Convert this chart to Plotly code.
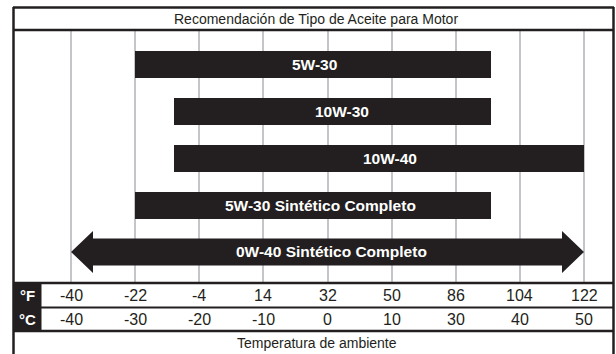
import numpy as np
import plotly.graph_objects as go

# ---- data ----
title = "Recomendación de Tipo de Aceite para Motor"
axis_title = "Temperatura de ambiente"
f_ticks = ["-40", "-22", "-4", "14", "32", "50", "86", "104", "122"]
c_ticks = [-40, -30, -20, -10, 0, 10, 30, 40, 50]
oils = ["5W-30", "10W-30", "10W-40", "5W-30 Sintético Completo", "0W-40 Sintético Completo"]
low_c = [-30, -24, -24, -30, -40]
high_c = [35.5, 35.5, 50, 35.5, 50]
is_arrow = [False, False, False, False, True]

# ---- style ----
W, H = 616, 354
DARK = "#231f20"
GRID = "#c5c5c9"
PLOT_TOP, PLOT_BOT = 30, 283
GRID0, GSTEP = 71, 64.125
ROW0, RSTEP = 64.7, 46.8
label_offset_px = [1, 9.5, 11, 7, 4]
FONT = "Liberation Sans, Arial, sans-serif"

def py(p):  # pixel row -> paper y (plot area spans PLOT_TOP..PLOT_BOT)
    return (PLOT_BOT - p) / (PLOT_BOT - PLOT_TOP)

def px(p):
    return p / W

idx = list(range(len(c_ticks)))
lo = np.interp(low_c, c_ticks, idx)
hi = np.interp(high_c, c_ticks, idx)
rows = np.arange(len(oils))

fig = go.Figure()

bar_mask = [not a for a in is_arrow]
fig.add_trace(go.Bar(
    orientation="h",
    y=rows[bar_mask],
    x=(hi - lo)[bar_mask],
    base=lo[bar_mask],
    width=27 / RSTEP,
    marker=dict(color=DARK, line=dict(width=0)),
    hoverinfo="skip",
))

head_len = 22 / GSTEP
head_h = 21 / RSTEP
body_h = 13.5 / RSTEP
for i, a in enumerate(is_arrow):
    if not a:
        continue
    l, h, r = lo[i], hi[i], rows[i]
    xs = [l, l + head_len, l + head_len, h - head_len, h - head_len, h,
          h - head_len, h - head_len, l + head_len, l + head_len, l]
    ys = [r, r - head_h, r - body_h, r - body_h, r - head_h, r,
          r + head_h, r + body_h, r + body_h, r + head_h, r]
    fig.add_trace(go.Scatter(x=xs, y=ys, mode="lines", fill="toself",
                             fillcolor=DARK, line=dict(color=DARK, width=0),
                             hoverinfo="skip"))

ann = []
for i, name in enumerate(oils):
    cx = (lo[i] + hi[i]) / 2 + label_offset_px[i] / GSTEP
    ann.append(dict(x=cx, y=rows[i], xref="x", yref="y", text=name, showarrow=False,
                    font=dict(family=FONT, size=15.5, color="white", weight="bold")))

for i in idx:
    ann.append(dict(x=i, y=py(295.5), xref="x", yref="paper", text=f_ticks[i], showarrow=False,
                    yanchor="middle", font=dict(family=FONT, size=16, color=DARK)))
    ann.append(dict(x=i, y=py(319.5), xref="x", yref="paper", text=str(c_ticks[i]), showarrow=False,
                    yanchor="middle", font=dict(family=FONT, size=16, color=DARK)))

for lab, yc in [("°F", 295.25), ("°C", 319.25)]:
    ann.append(dict(x=px(13), y=py(yc), xref="paper", yref="paper", text=lab, showarrow=False,
                    xanchor="left", yanchor="middle", width=27, height=23, borderpad=0,
                    bgcolor=DARK, align="center", valign="middle",
                    font=dict(family=FONT, size=15, color="white", weight="bold")))
ann.append(dict(x=px(315.5), y=py(18.5), xref="paper", yref="paper", text=title, showarrow=False,
                yanchor="middle", font=dict(family=FONT, size=14, color=DARK)))
ann.append(dict(x=px(316.5), y=py(343), xref="paper", yref="paper", text=axis_title, showarrow=False,
                yanchor="middle", font=dict(family=FONT, size=14, color=DARK)))

shapes = []
# horizontal rules
for yy, w in [(7.5, 2.5), (30, 2.5), (283, 2.5), (307.5, 2), (331, 2.5)]:
    shapes.append(dict(type="line", xref="paper", yref="paper", x0=px(13), x1=px(614),
                       y0=py(yy), y1=py(yy), line=dict(color=DARK, width=w), layer="above"))
# vertical frame
for xx in [13.5, 613.5]:
    shapes.append(dict(type="line", xref="paper", yref="paper", x0=px(xx), x1=px(xx),
                       y0=py(7), y1=py(360), line=dict(color=DARK, width=2.5), layer="above"))

fig.update_layout(
    width=W, height=H,
    margin=dict(l=0, r=0, t=PLOT_TOP, b=H - PLOT_BOT, pad=0),
    paper_bgcolor="white", plot_bgcolor="white",
    showlegend=False,
    xaxis=dict(range=[-GRID0 / GSTEP, (W - GRID0) / GSTEP], tickvals=idx,
               showticklabels=False, showgrid=True, gridcolor=GRID, gridwidth=2,
               zeroline=False, showline=False, ticks="", fixedrange=True),
    yaxis=dict(range=[-(ROW0 - PLOT_TOP) / RSTEP + (PLOT_BOT - PLOT_TOP) / RSTEP, -(ROW0 - PLOT_TOP) / RSTEP],
               showticklabels=False, showgrid=False, zeroline=False, showline=False,
               ticks="", fixedrange=True),
    annotations=ann,
    shapes=shapes,
    bargap=0,
)

fig.write_html("out.html", config={"displayModeBar": False},
               post_script="document.body.style.margin='0';document.body.style.overflow='hidden';")
